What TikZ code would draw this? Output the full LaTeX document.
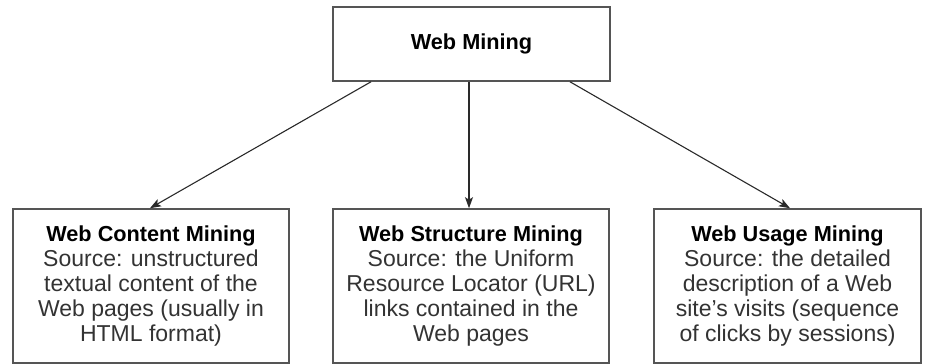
\documentclass[tikz,border=0pt]{standalone}
\usepackage{fontspec}
\setmainfont{Liberation Sans}
\usetikzlibrary{arrows.meta}
\definecolor{bordergray}{HTML}{555555}
\definecolor{linegray}{HTML}{2A2A2A}
\definecolor{textgray}{HTML}{333333}
\tikzset{
  mbox/.style={draw=bordergray, line width=1.6pt, fill=white, align=center, inner sep=0pt},
  conn/.style={draw=linegray, line width=1.1pt, -{Stealth[length=11pt,width=8pt,inset=2.5pt]}},
  ttl/.style={font=\fontsize{21.7}{25}\selectfont\bfseries},
}
\newcommand{\ttlline}[1]{{\fontsize{21.7}{25}\selectfont\bfseries\color{black}#1}}
\begin{document}
\begin{tikzpicture}[x=1pt,y=1pt]
\useasboundingbox (0,0) rectangle (927,364);
\node[mbox, minimum width=277pt, minimum height=74pt, ttl] (top) at (471.5,320) {Web Mining};
\node[mbox, minimum width=276pt, minimum height=154pt, text=textgray,
      font=\fontsize{23}{25}\selectfont] (b1) at (151,78)
  {\ttlline{Web Content Mining}\\Source: unstructured\\textual content of the\\Web pages (usually in\\HTML format)};
\node[mbox, minimum width=276pt, minimum height=154pt, text=textgray,
      font=\fontsize{23}{25}\selectfont] (b2) at (471,78)
  {\ttlline{Web Structure Mining}\\Source: the Uniform\\Resource Locator (URL)\\links contained in the\\Web pages};
\node[mbox, minimum width=267pt, minimum height=154pt, text=textgray,
      font=\fontsize{23}{25}\selectfont] (b3) at (787.5,78)
  {\ttlline{Web Usage Mining}\\Source: the detailed\\description of a Web\\site’s visits (sequence\\of clicks by sessions)};
\draw[conn] ([xshift=-100.5pt]top.south) -- ([xshift=-1pt]b1.north);
\draw[conn] ([xshift=-2.5pt]top.south) -- ([xshift=-2pt]b2.north);
\draw[conn] ([xshift=98.5pt]top.south) -- ([xshift=2.5pt]b3.north);
\end{tikzpicture}
\end{document}
